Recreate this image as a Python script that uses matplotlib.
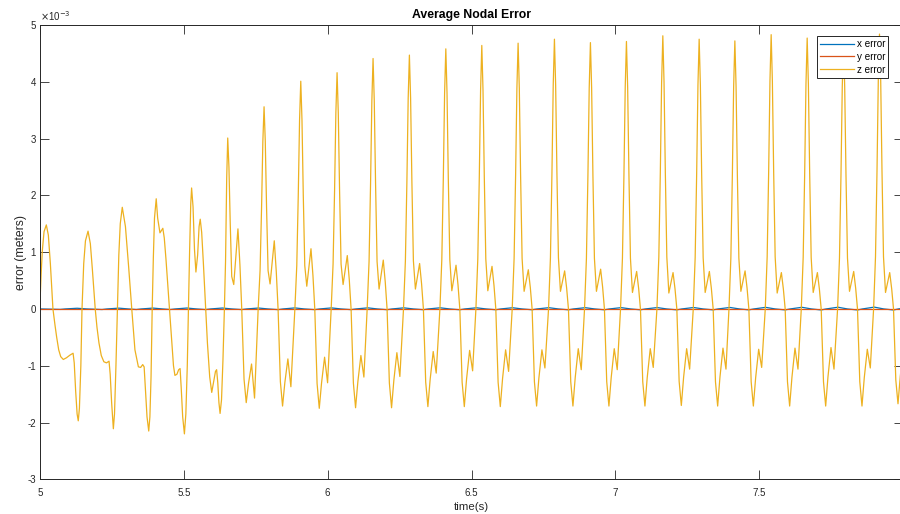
import matplotlib.pyplot as plt
from matplotlib.ticker import FormatStrFormatter

plt.rcParams['font.family'] = ['Liberation Sans', 'DejaVu Sans']
plt.rcParams['axes.unicode_minus'] = False

# z error while the motion builds up (time in s, error in 1e-3 m), read point by point
t_start = [5.000, 5.004, 5.008, 5.014, 5.022, 5.029, 5.036, 5.045, 5.052, 5.058,
           5.065, 5.072, 5.081, 5.092, 5.105, 5.115, 5.119, 5.124, 5.129, 5.133,
           5.137, 5.142, 5.146, 5.152, 5.158, 5.167, 5.175, 5.182, 5.192, 5.198,
           5.205, 5.213, 5.222, 5.231, 5.240, 5.244, 5.249, 5.255, 5.259, 5.264,
           5.269, 5.274, 5.279, 5.286, 5.297, 5.308, 5.319, 5.330, 5.342, 5.350,
           5.357, 5.362, 5.367, 5.372, 5.378, 5.382, 5.386, 5.390, 5.394, 5.398,
           5.404, 5.409, 5.417, 5.422, 5.427, 5.432, 5.438, 5.450, 5.458, 5.464,
           5.469, 5.476, 5.482, 5.487, 5.491, 5.496, 5.502, 5.507, 5.512, 5.516,
           5.520, 5.524, 5.527, 5.532, 5.537, 5.542, 5.548, 5.553, 5.557, 5.562,
           5.568, 5.576, 5.582, 5.590, 5.597, 5.603, 5.610, 5.614, 5.618, 5.622,
           5.626, 5.631, 5.636, 5.641, 5.645, 5.649]
z_start = [0.12, 0.62, 1.02, 1.36, 1.48, 1.30, 0.80, 0.00, -0.28, -0.50,
           -0.72, -0.84, -0.89, -0.86, -0.81, -0.78, -0.95, -1.45, -1.85, -1.97,
           -1.75, -1.00, 0.00, 0.80, 1.20, 1.37, 1.15, 0.70, 0.00, -0.32,
           -0.60, -0.82, -0.93, -0.95, -0.92, -1.15, -1.65, -2.11, -1.85, -1.00,
           0.00, 0.95, 1.50, 1.79, 1.45, 0.75, 0.00, -0.72, -1.02, -1.03,
           -0.98, -1.02, -1.45, -1.90, -2.15, -1.90, -1.20, 0.00, 0.90, 1.60,
           1.94, 1.60, 1.34, 1.38, 1.42, 1.25, 0.87, 0.00, -0.60, -1.00,
           -1.17, -1.15, -1.07, -1.05, -1.40, -1.90, -2.20, -1.85, -1.00, 0.00,
           1.00, 1.85, 2.13, 1.80, 1.05, 0.65, 0.95, 1.45, 1.58, 1.35,
           0.80, 0.00, -0.60, -1.20, -1.47, -1.30, -1.10, -1.07, -1.30, -1.65,
           -1.84, -1.60, -0.90, 0.00, 0.84, 2.30]

# later cycles: one tall peak each, then the same small wiggles
peak_t = [5.6526, 5.7789, 5.9065, 6.0327, 6.1578, 6.2841, 6.4107, 6.5358, 6.6620, 6.7883,
          6.9134, 7.0386, 7.1651, 7.2914, 7.4155, 7.5417, 7.6669, 7.7931, 7.9183]
peak_v = [3.01, 3.56, 4.01, 4.16, 4.41, 4.47, 4.58, 4.64, 4.68, 4.75,
          4.69, 4.71, 4.81, 4.75, 4.72, 4.83, 4.77, 4.72, 4.84]
dip_v = [0.43, 0.44, 0.40, 0.43, 0.35, 0.35, 0.32, 0.32, 0.31, 0.31,
         0.31, 0.29, 0.28, 0.29, 0.31, 0.28, 0.29, 0.31, 0.29]
sec_v = [1.41, 1.20, 1.06, 0.94, 0.86, 0.80, 0.77, 0.75, 0.69, 0.67,
         0.70, 0.66, 0.64, 0.66, 0.67, 0.64, 0.64, 0.66, 0.64]
trough_v = [-1.65, -1.71, -1.75, -1.74, -1.74, -1.72, -1.72, -1.72, -1.71, -1.71,
            -1.71, -1.71, -1.70, -1.71, -1.71, -1.71, -1.71, -1.71, -1.67]
bump_v = [-0.97, -0.88, -0.85, -0.82, -0.77, -0.75, -0.73, -0.72, -0.72, -0.70,
          -0.70, -0.70, -0.70, -0.69, -0.71, -0.69, -0.68, -0.71, -0.70]
dip2_v = [-1.57, -1.37, -1.30, -1.20, -1.19, -1.13, -1.09, -1.10, -1.04, -1.07,
          -1.07, -1.03, -1.06, -1.06, -1.03, -1.06, -1.06, -1.04, -1.05]

# shape of one cycle, offsets from its main peak (s)
flank_dt = [0.0139, 0.0087, 0.0042]
flank_frac = [0.19, 0.5, 0.83]
zero_up_dt = -0.0205
dip_dt, sec_dt, sec_fall_dt, zero_dt = 0.0209, 0.0355, 0.0424, 0.0487
trough_in_dt, trough_dt, trough_out_dt = 0.0567, 0.0643, 0.0723
bump_dt, dip2_dt = 0.0828, 0.0932

# x error: a small hump and dip per cycle
early_peak_t = [5.022, 5.167, 5.286, 5.404, 5.527]
x_hump = [0.012, 0.014, 0.015, 0.016, 0.016, 0.016, 0.018, 0.018, 0.019, 0.019, 0.020, 0.020,
          0.021, 0.022, 0.022, 0.023, 0.024, 0.025, 0.026, 0.028, 0.029, 0.030, 0.032, 0.032]
x_dip = [-0.008, -0.010, -0.010, -0.010, -0.011, -0.011, -0.012, -0.012, -0.012, -0.013, -0.013, -0.014,
         -0.014, -0.014, -0.015, -0.015, -0.015, -0.016, -0.016, -0.016, -0.017, -0.018, -0.018, -0.018]

# y error stays on zero
y_t = [5.0, 8.0]
y_v = [0.0, 0.0]


def build_z():
    t, v = list(t_start), list(z_start)
    for i in range(len(peak_t)):
        p, h = peak_t[i], peak_v[i]
        if i > 0:
            t.append(p + zero_up_dt); v.append(0.0)
            for dt, f in zip(flank_dt, flank_frac):
                t.append(p - dt); v.append(f * h)
        t.append(p); v.append(h)
        for dt, f in zip(flank_dt[::-1], flank_frac[::-1]):
            t.append(p + dt); v.append(f * h)
        t += [p + dip_dt, p + sec_dt, p + sec_fall_dt, p + zero_dt,
              p + trough_in_dt, p + trough_dt, p + trough_out_dt, p + bump_dt, p + dip2_dt]
        v += [dip_v[i], sec_v[i], 0.55 * sec_v[i], 0.0,
              0.75 * trough_v[i], trough_v[i], 0.5 * (trough_v[i] + bump_v[i]), bump_v[i], dip2_v[i]]
    return t, v


def build_x():
    t, v = [5.0], [0.0]
    for p, hu, dp in zip(early_peak_t + peak_t, x_hump, x_dip):
        t += [p + 0.0487, p + 0.066, p + 0.107, p + 0.14]
        v += [dp, 0.0, hu, 0.0]
    return t, v


zt, zv = build_z()
xt, xv = build_x()

fig = plt.figure(figsize=(9, 5.14), dpi=100)
# the axes run out to t = 8 just past the right edge of the picture
ax = fig.add_axes([40 / 900, 34.7 / 514, 863 / 900, 454.3 / 514])

# values are plotted in units of 1e-3 m, shown by the x10^-3 note above the axis
ax.plot(xt, xv, color='#0072BD', lw=0.9, label='x error')
ax.plot(y_t, y_v, color='#D95319', lw=0.9, label='y error')
ax.plot(zt, zv, color='#EDB120', lw=0.9, label='z error')

ax.set_xlim(5, 8)
ax.set_ylim(-3, 5)
ax.set_xticks([5, 5.5, 6, 6.5, 7, 7.5])
ax.xaxis.set_major_formatter(FormatStrFormatter('%g'))
ax.set_yticks(range(-3, 6))
ax.yaxis.set_major_formatter(FormatStrFormatter('%g'))
ax.text(0.0, 1.004, r'$\times$10$^{-3}$', transform=ax.transAxes, fontsize=7,
        color='#262626', ha='left', va='bottom')

ax.tick_params(direction='in', top=True, right=True, length=6.2, width=0.6,
               colors='#262626', labelsize=7)
ax.tick_params(axis='y', pad=3)
ax.tick_params(axis='x', pad=6.5)
for s in ax.spines.values():
    s.set_color('#262626')
    s.set_linewidth(0.7)

ax.set_title('Average Nodal Error', fontsize=8.8, fontweight='bold', pad=5)
ax.set_xlabel('time(s)', fontsize=8.2, color='#262626', labelpad=3)
ax.set_ylabel('error (meters)', fontsize=8.8, color='#262626', labelpad=0.5)

leg = ax.legend(loc='upper right', bbox_to_anchor=(0.9826, 0.9758), borderaxespad=0,
                fontsize=7.1, handlelength=3.4, handletextpad=0.3, labelspacing=0.3,
                borderpad=0.3, fancybox=False, framealpha=1)
leg.get_frame().set_edgecolor('#262626')
leg.get_frame().set_linewidth(0.7)

fig.savefig('out.png', dpi=100)
